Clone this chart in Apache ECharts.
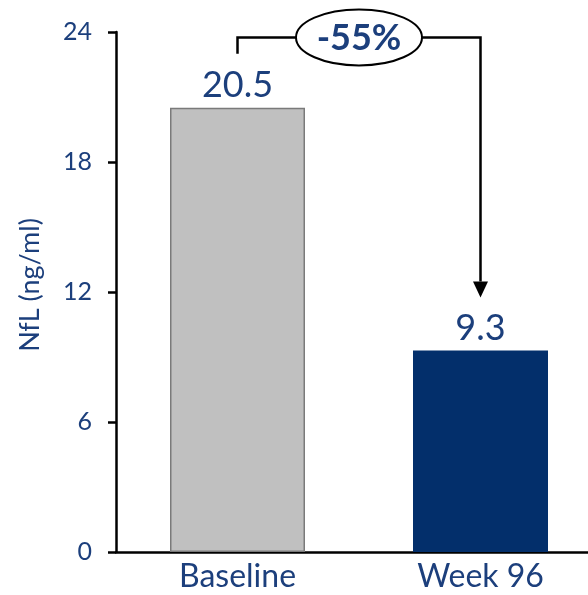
<!DOCTYPE html>
<html>
<head>
<meta charset="utf-8">
<script src="https://cdn.jsdelivr.net/npm/echarts@6/dist/echarts.min.js"></script>
<style>
  html, body { margin: 0; padding: 0; background: #fff; }
  #chart { width: 588px; height: 595px; }
</style>
</head>
<body>
<div id="chart"></div>
<script>
// NfL levels at baseline and week 96
const categories = ['Baseline', 'Week 96'];
const nflValues = [20.5, 9.3];
const barColors = ['#c0c0c0', '#032f6b'];
const yTicks = [0, 6, 12, 18, 24];
const changeLabel = '-55%';

const TEXT = '#1c3f7c';
const FONT = 'Lato';

const chart = echarts.init(document.getElementById('chart'), null, { renderer: 'canvas' });

chart.setOption({
  animation: false,
  grid: { left: 116, right: -14, top: 32, bottom: 43, containLabel: false, outerBoundsMode: 'none' },
  xAxis: {
    type: 'category',
    data: categories,
    axisLine: { lineStyle: { color: '#000', width: 2.5 } },
    axisTick: { show: false },
    axisLabel: { color: TEXT, fontFamily: FONT, fontSize: 32, margin: 9 }
  },
  yAxis: {
    type: 'value',
    min: yTicks[0],
    max: yTicks[yTicks.length - 1],
    interval: yTicks[1] - yTicks[0],
    name: 'NfL (ng/ml)',
    nameLocation: 'middle',
    nameGap: 72,
    nameTextStyle: { color: TEXT, fontFamily: FONT, fontSize: 27, padding: [0, 0, 0, 14] },
    axisLine: { show: true, lineStyle: { color: '#000', width: 2.5 } },
    axisTick: { show: true, length: 8, lineStyle: { color: '#000', width: 2.5 } },
    splitLine: { show: false },
    axisLabel: { color: TEXT, fontFamily: FONT, fontSize: 25, margin: 24 }
  },
  series: [{
    type: 'bar',
    barWidth: 135,
    data: nflValues.map((v, i) => ({
      value: v,
      itemStyle: {
        color: barColors[i],
        borderColor: i === 0 ? '#7a7a7a' : barColors[i],
        borderWidth: i === 0 ? 1.5 : 0
      }
    })),
    label: {
      show: true,
      position: 'top',
      distance: 4,
      color: TEXT,
      fontFamily: FONT,
      fontSize: 36
    }
  }]
});

// Bracket connecting the two bars, with the percent change in an ellipse
function drawBracket() {
  const p0 = chart.convertToPixel({ xAxisIndex: 0, yAxisIndex: 0 }, [0, 23.0]);
  const pTop = chart.convertToPixel({ xAxisIndex: 0, yAxisIndex: 0 }, [0, 23.75]);
  const p1 = chart.convertToPixel({ xAxisIndex: 0, yAxisIndex: 0 }, [1, 23.75]);
  const pTip = chart.convertToPixel({ xAxisIndex: 0, yAxisIndex: 0 }, [1, 11.75]);
  const x0 = p0[0], x1 = p1[0], yTop = pTop[1];
  const cx = (x0 + x1) / 2;
  const head = 16;
  const line = { stroke: '#000', lineWidth: 2.5, fill: null };

  chart.setOption({
    graphic: [
      {
        type: 'polyline',
        shape: { points: [[x0, p0[1]], [x0, yTop], [x1, yTop], [x1, pTip[1] - head]] },
        style: line,
        z: 10
      },
      {
        type: 'polygon',
        shape: { points: [[x1 - 7.5, pTip[1] - head], [x1 + 7.5, pTip[1] - head], [x1, pTip[1]]] },
        style: { fill: '#000' },
        z: 10
      },
      {
        type: 'ellipse',
        shape: { cx: cx, cy: yTop, rx: 63, ry: 28 },
        style: { fill: '#fff', stroke: '#000', lineWidth: 2 },
        z: 11
      },
      {
        type: 'text',
        x: cx,
        y: yTop + 1,
        style: {
          text: changeLabel,
          fill: TEXT,
          font: 'bold 36px ' + FONT,
          align: 'center',
          verticalAlign: 'middle'
        },
        z: 12
      }
    ]
  });
}
drawBracket();
</script>
</body>
</html>
